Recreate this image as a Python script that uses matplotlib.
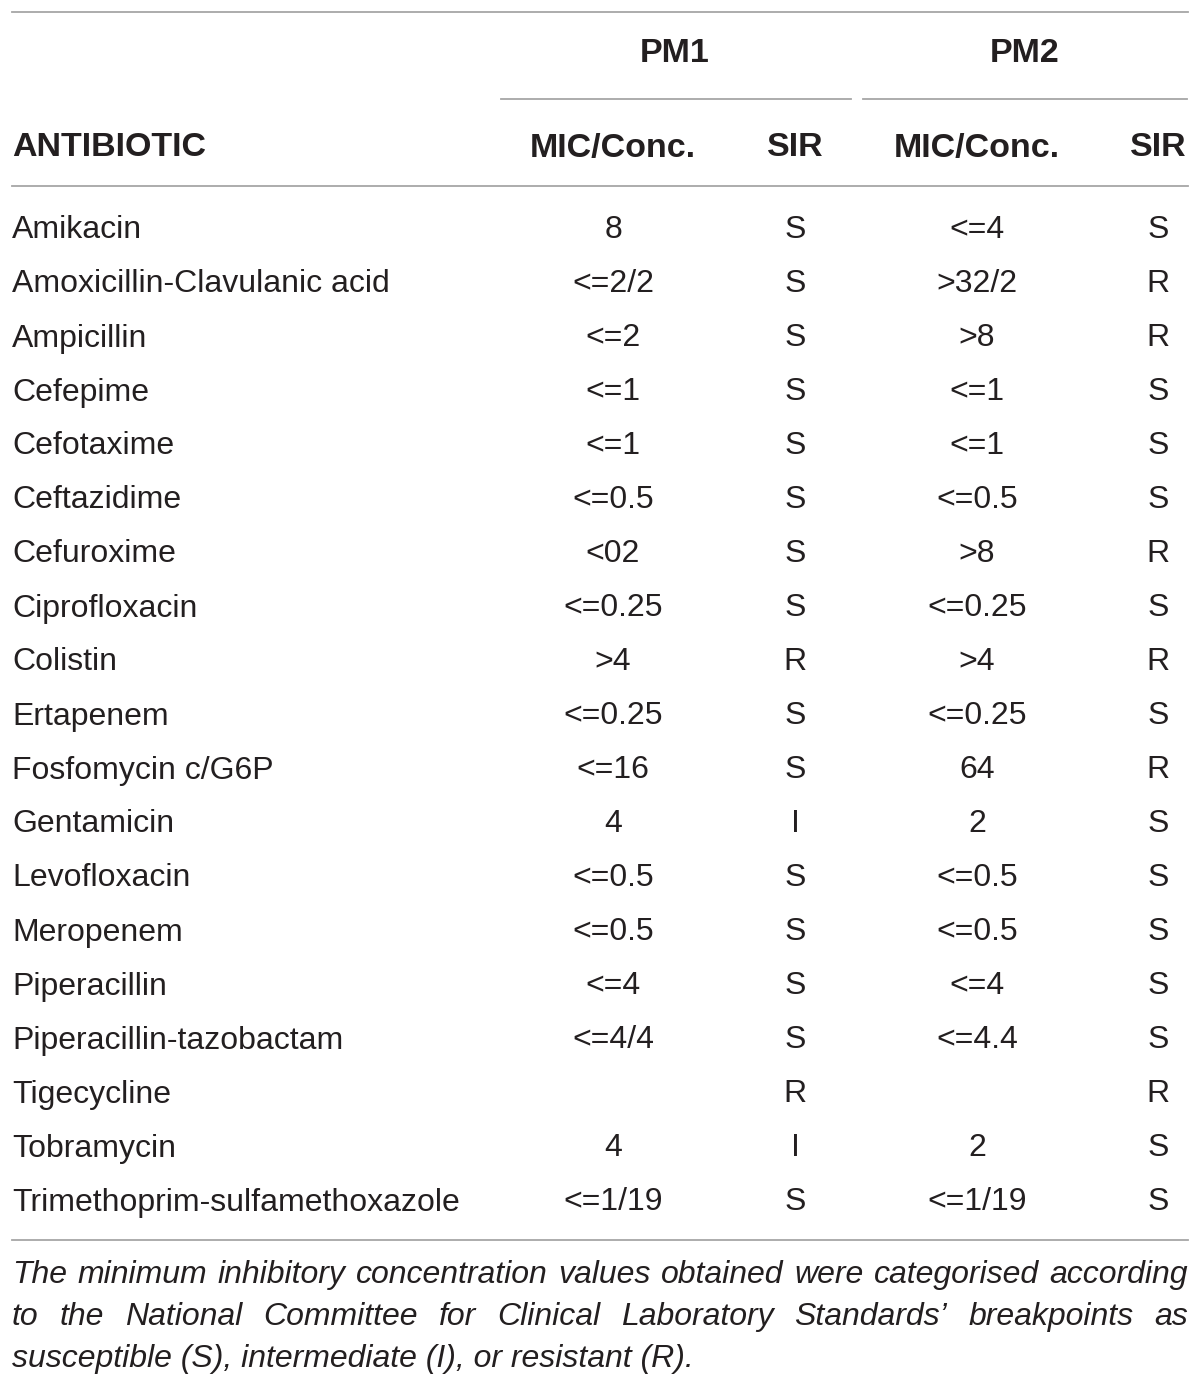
import matplotlib
matplotlib.use("Agg")
import matplotlib.pyplot as plt

# table content
antibiotics = ["Amikacin", "Amoxicillin-Clavulanic acid", "Ampicillin", "Cefepime",
               "Cefotaxime", "Ceftazidime", "Cefuroxime", "Ciprofloxacin", "Colistin",
               "Ertapenem", "Fosfomycin c/G6P", "Gentamicin", "Levofloxacin", "Meropenem",
               "Piperacillin", "Piperacillin-tazobactam", "Tigecycline", "Tobramycin",
               "Trimethoprim-sulfamethoxazole"]
pm1_mic = ["8", "<=2/2", "<=2", "<=1", "<=1", "<=0.5", "<02", "<=0.25", ">4", "<=0.25",
           "<=16", "4", "<=0.5", "<=0.5", "<=4", "<=4/4", "", "4", "<=1/19"]
pm1_sir = ["S", "S", "S", "S", "S", "S", "S", "S", "R", "S", "S", "I", "S", "S", "S", "S",
           "R", "I", "S"]
pm2_mic = ["<=4", ">32/2", ">8", "<=1", "<=1", "<=0.5", ">8", "<=0.25", ">4", "<=0.25",
           "64", "2", "<=0.5", "<=0.5", "<=4", "<=4.4", "", "2", "<=1/19"]
pm2_sir = ["S", "R", "R", "S", "S", "S", "R", "S", "R", "S", "R", "S", "S", "S", "S", "S",
           "R", "S", "S"]
groups = ["PM1", "PM2"]
sub_headers = ["MIC/Conc.", "SIR", "MIC/Conc.", "SIR"]
footnote = ["The minimum inhibitory concentration values obtained were categorised according",
            "to the National Committee for Clinical Laboratory Standards\u2019 breakpoints as",
            "susceptible (S), intermediate (I), or resistant (R)."]

W, H = 1200, 1387
txt_col = "#231f20"
line_col = "#a6a6a6"
fs = 23
fs_bold = 24.5
fs_foot = 23
font = "Liberation Sans"

fig = plt.figure(figsize=(W / 100, H / 100), dpi=100)
ax = fig.add_axes([0, 0, 1, 1])
ax.set_xlim(0, W)
ax.set_ylim(H, 0)
ax.axis("off")

left, right = 12, 1188
col_x = [613, 795, 977, 1158]
group_x = [675, 1025]

# rules
ax.plot([left, right], [12, 12], color=line_col, lw=1.3)
ax.plot([501, 851], [99, 99], color=line_col, lw=1.3)
ax.plot([863, 1187], [99, 99], color=line_col, lw=1.3)
ax.plot([left, right], [186, 186], color=line_col, lw=1.3)
ax.plot([left, right], [1240, 1240], color=line_col, lw=1.3)

# header
for g, gx in zip(groups, group_x):
    ax.text(gx, 54, g, ha="center", va="center", fontsize=fs_bold, fontweight="bold",
            family=font, color=txt_col)
ax.text(left, 148, "ANTIBIOTIC", ha="left", va="center", fontsize=fs_bold, fontweight="bold",
        family=font, color=txt_col)
for h, hx in zip(sub_headers, col_x):
    ax.text(hx, 148, h, ha="center", va="center", fontsize=fs_bold, fontweight="bold",
            family=font, color=txt_col)

# body rows
row0, row_step = 230.5, 54.0
for i, name in enumerate(antibiotics):
    y = row0 + i * row_step
    ax.text(left, y, name, ha="left", va="center", fontsize=fs, family=font, color=txt_col)
    for val, cx in zip([pm1_mic[i], pm1_sir[i], pm2_mic[i], pm2_sir[i]], col_x):
        ax.text(cx, y, val, ha="center", va="center", fontsize=fs, family=font, color=txt_col)

# footnote, first two lines justified
renderer = fig.canvas.get_renderer()
foot_y = [1275, 1317, 1359]
for k, (line, y) in enumerate(zip(footnote, foot_y)):
    if k == len(footnote) - 1:
        ax.text(left, y, line, ha="left", va="center", fontsize=fs_foot, style="italic",
                family=font, color=txt_col)
        continue
    words = line.split(" ")
    arts = [ax.text(0, y, w, ha="left", va="center", fontsize=fs_foot, style="italic",
                    family=font, color=txt_col) for w in words]
    widths = [a.get_window_extent(renderer).width for a in arts]
    gap = (right - left - sum(widths)) / (len(words) - 1)
    x = left
    for a, wd in zip(arts, widths):
        a.set_x(x)
        x += wd + gap

fig.savefig("out.png", dpi=100)
